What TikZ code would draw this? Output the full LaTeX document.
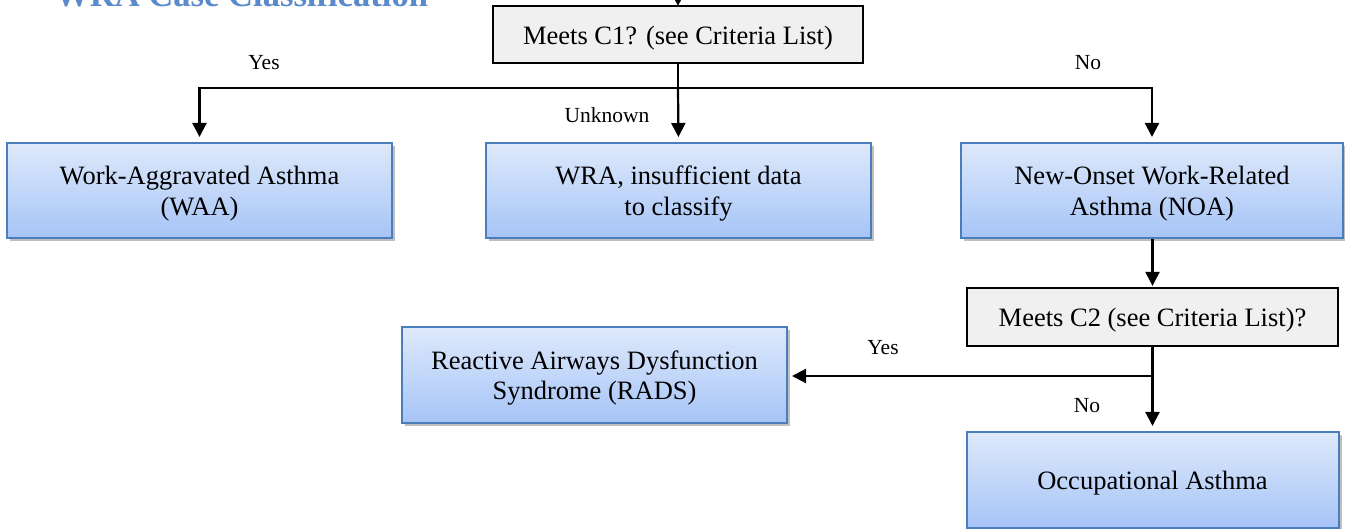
\documentclass[tikz,border=0pt]{standalone}
\usepackage{fontspec}
\setmainfont{Liberation Serif}
\usetikzlibrary{arrows.meta,shadows}
\definecolor{boxtop}{HTML}{DEE9FB}
\definecolor{boxbot}{HTML}{A6C4F7}
\definecolor{boxedge}{HTML}{4A7EBB}
\definecolor{grayfill}{HTML}{F0F0F0}
\definecolor{titleblue}{HTML}{5A8ACB}
\newcommand{\tstrut}{\rule{0pt}{25pt}}
\tikzset{
  bluebox/.style={rectangle, draw=boxedge, line width=2pt, top color=boxtop, bottom color=boxbot,
    minimum width=385pt, minimum height=95pt, align=center, inner sep=0pt,
    font=\fontsize{26.5}{30.5}\selectfont,
    drop shadow={shadow xshift=3pt, shadow yshift=-3pt, fill=black, opacity=0.25}},
  graybox/.style={rectangle, draw=black, line width=2.2pt, fill=grayfill,
    minimum height=57pt, align=center, inner sep=0pt,
    font=\fontsize{26.5}{30.5}\selectfont},
  lbl/.style={font=\fontsize{21.5}{24}\selectfont, inner sep=0pt},
  arr/.style={line width=2.2pt, -{Triangle[width=14pt,length=14pt]}},
  ln/.style={line width=2.2pt}
}
\begin{document}
\begin{tikzpicture}[x=1pt,y=-1pt]
\useasboundingbox (0,0) rectangle (1345,529);
\fill[white] (0,0) rectangle (1345,529);
% title (cut at the top, as in the source)
\node[anchor=base west, inner sep=0pt, text=titleblue, font=\fontsize{34.6}{40}\selectfont\bfseries] (title) at (55,7) {WRA Case Classification};
% nodes
\node[graybox, minimum width=370pt] (c1) at (678,34.5) {\tstrut Meets C1? (see Criteria List)};
\node[bluebox] (waa) at (199.5,190.5) {\tstrut Work-Aggravated Asthma\\(WAA)};
\node[bluebox] (wra) at (678.5,190.5) {\tstrut WRA, insufficient data\\to classify};
\node[bluebox, minimum width=382pt] (noa) at (1152,190.5) {\tstrut New-Onset Work-Related\\Asthma (NOA)};
\node[graybox, minimum width=371pt, minimum height=58pt] (c2) at (1152.5,317) {\tstrut Meets C2 (see Criteria List)?};
\node[bluebox, minimum height=96pt] (rads) at (594.5,375) {\tstrut Reactive Airways Dysfunction\\Syndrome (RADS)};
\node[bluebox, minimum width=372pt, minimum height=96pt] (occ) at (1152.5,480) {\tstrut Occupational Asthma};
% junctions
\coordinate (top) at (678,-10);
\coordinate (j1) at (678,88);
\coordinate (j2) at (1152.5,376);
% connectors
\draw[arr, shorten >=-1pt] (top) -- (c1.north);
\draw[ln] (c1.south) -- (j1);
\draw[arr, shorten >=5pt] (j1) -| (waa.north);
\draw[arr, shorten >=5pt] (j1) -| (noa.north);
\draw[arr, shorten >=5pt] (j1) -- (wra.north);
\draw[arr, shorten >=1pt] (noa.south -| c2.north) -- (c2.north);
\draw[ln] (c2.south) -- (j2);
\draw[arr, shorten >=4pt] (j2) -- (j2 -| rads.east);
\draw[arr, shorten >=5pt] (j2) -- (occ.north);
% labels
\node[lbl] (yes1) at (264,63) {Yes};
\node[lbl] (unk) at (607,115) {Unknown};
\node[lbl] (no1) at (1088,63) {No};
\node[lbl] (yes2) at (883,348) {Yes};
\node[lbl] (no2) at (1087,406) {No};
\end{tikzpicture}
\end{document}
